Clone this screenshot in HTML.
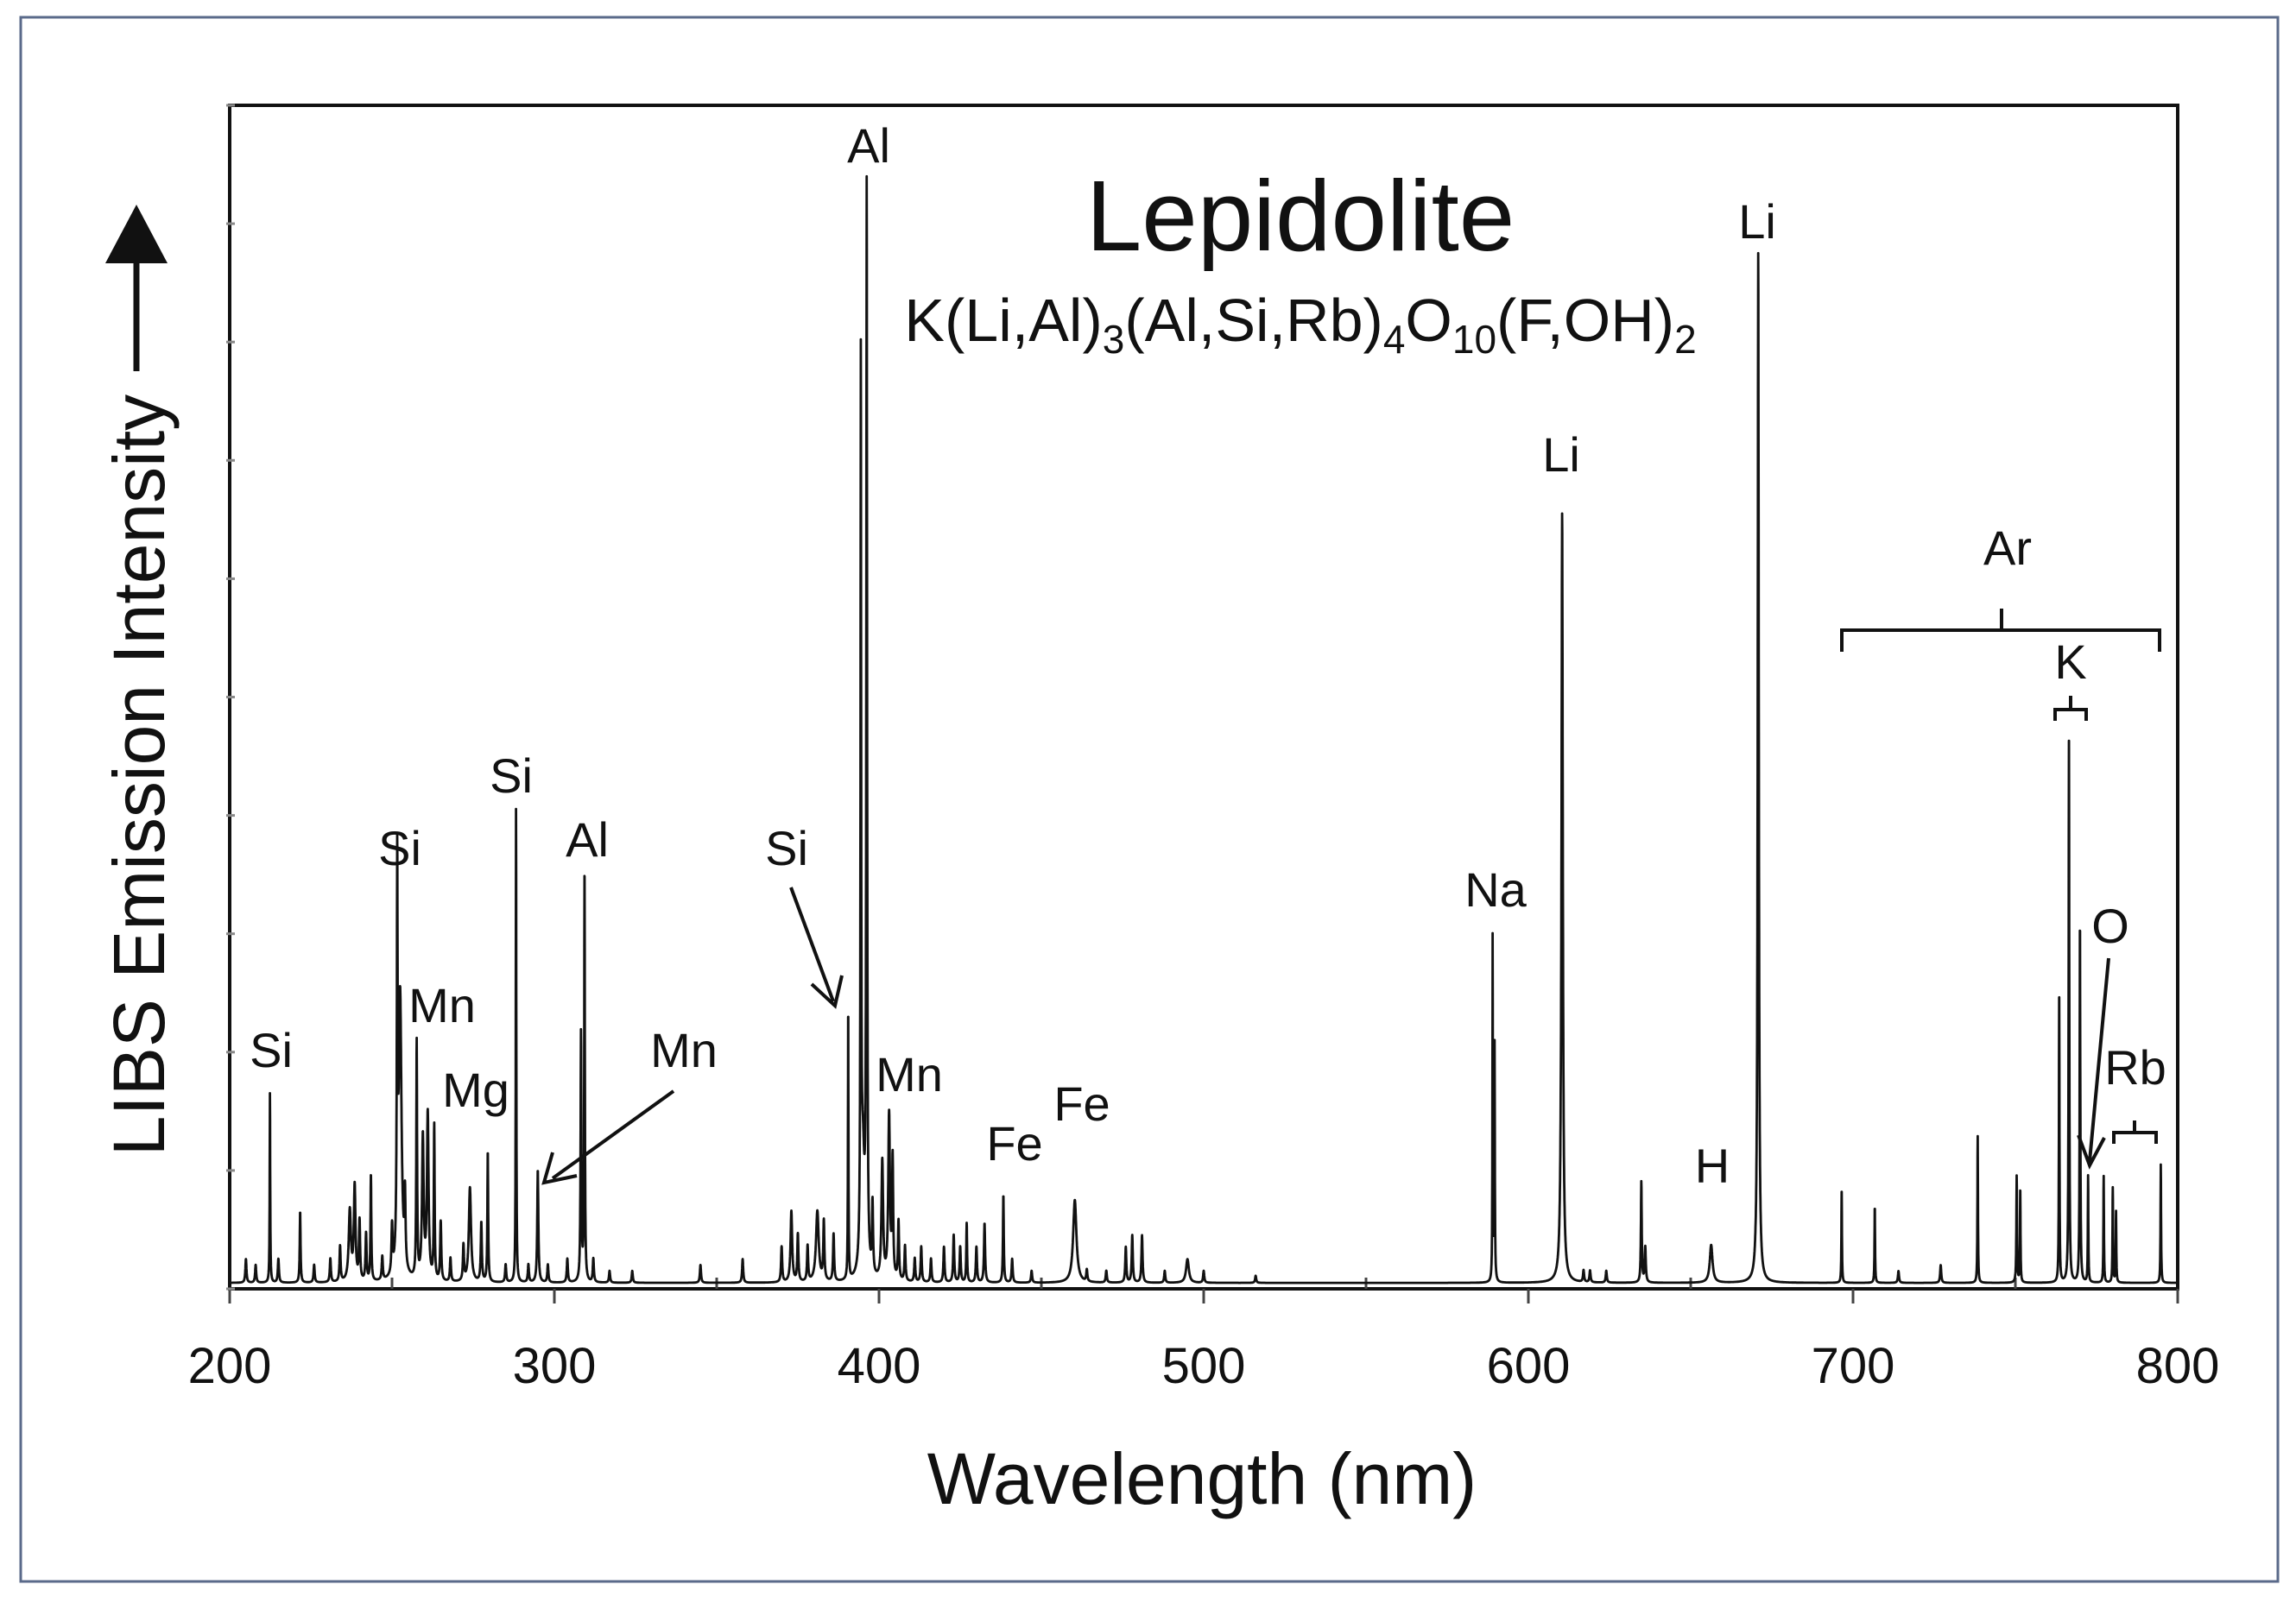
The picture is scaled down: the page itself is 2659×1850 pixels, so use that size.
<!DOCTYPE html>
<html><head><meta charset="utf-8"><style>
body{margin:0;background:#fff}
svg{display:block}
text{font-family:"Liberation Sans",sans-serif;fill:#111}
</style></head><body>
<svg id="chart" width="2659" height="1850" viewBox="0 0 2659 1850" xmlns="http://www.w3.org/2000/svg">
<rect x="24" y="20" width="2614" height="1812" fill="#fff" stroke="#5a6a8a" stroke-width="3"/>
<rect x="266" y="122" width="2256" height="1371" fill="none" stroke="#111" stroke-width="4"/>
<g id="xticks"></g>
<g id="yticks"></g>
<path id="spec" fill="none" stroke="#111" stroke-width="2.8" stroke-linejoin="round"/>
<text x="1506" y="290" font-size="116" text-anchor="middle">Lepidolite</text>
<text x="1506" y="395" font-size="70" text-anchor="middle">K(Li,Al)<tspan font-size="46" dy="14">3</tspan><tspan dy="-14">(Al,Si,Rb)</tspan><tspan font-size="46" dy="14">4</tspan><tspan dy="-14">O</tspan><tspan font-size="46" dy="14">10</tspan><tspan dy="-14">(F,OH)</tspan><tspan font-size="46" dy="14">2</tspan></text>
<text x="1392" y="1742" font-size="84" text-anchor="middle">Wavelength (nm)</text>
<text transform="translate(190,898) rotate(-90)" font-size="84" text-anchor="middle">LIBS Emission Intensity</text>
<g><line x1="158" y1="430" x2="158" y2="300" stroke="#111" stroke-width="7"/><polygon points="122,305 194,305 158,237" fill="#111"/></g>
<g id="labels" font-size="56" text-anchor="middle"></g>
<g fill="none" stroke="#111" stroke-width="4">
<line x1="780" y1="1264" x2="640" y2="1365"/><polyline points="640,1335 630,1370 668,1362"/>
<line x1="916" y1="1028" x2="965" y2="1160"/><polyline points="940,1140 967,1165 975,1130"/>
<line x1="2442" y1="1110" x2="2420" y2="1345"/><polyline points="2407,1315 2420,1350 2437,1318"/>
<path d="M2133,755 V730 H2318 V705 M2318,730 H2501 V755"/>
<path d="M2380,835 V822 H2398 V806 M2398,822 H2416 V835"/>
<path d="M2448,1325 V1312 H2472 V1298 M2472,1312 H2497 V1325"/>
</g>
</svg>
<script>
const lineWl=[205,208,212.4,215,221.7,226,231,234,237,238.5,240,242,243.5,247,250,251.6,252.5,254,257.6,259.5,261,263,265,268,272,274,277.5,279.5,285,288.2,292,294.9,298,304,308.2,309.3,312,317,324,345,358,370,373,375,378,381,383,386,390.5,394.4,396.2,395,398,401,403.1,404.2,406,408,411,413,416,420,423,425,427,430,432.5,438.3,441,447,460.3,464,470,476,478,481,488,495,500,516,589,589.6,610.4,617,619,624,634.8,636,656.3,670.8,696.5,706.7,714,727,738.4,750.4,751.5,763.5,766.5,769.9,772.4,777.2,780,781,794.8];
const lineHt=[2,1.5,16,2,6,1.5,2,3,6,8,5,4,9,2,4,32,24,6,20,12,14,13,5,2,3,8,5,11,1.5,40,1.5,9.5,1.5,2,21,34.9,2,1,1,1.5,2,3,6,4,3,6,5,4,23,74,91,10,6,10,14,10,5,3,2,3,2,3,4,3,5,3,5,7.4,2,1,7,1,1,3,4,4,1,2,1,0.6,29,20,65,1,1,1,8.5,3,3.2,87,8,6.5,1,1.5,12.4,9,8,25,47,30.5,9,9,8,6,10];
const lineW=[0.2,0.2,0.1,0.2,0.15,0.2,0.2,0.2,0.4,0.3,0.2,0.2,0.15,0.2,0.2,0.15,0.5,0.2,0.15,0.3,0.3,0.15,0.2,0.2,0.2,0.4,0.2,0.15,0.2,0.1,0.2,0.2,0.2,0.2,0.15,0.12,0.2,0.2,0.2,0.2,0.2,0.2,0.3,0.2,0.2,0.5,0.2,0.2,0.1,0.12,0.15,0.6,0.2,0.3,0.3,0.2,0.2,0.2,0.2,0.2,0.2,0.2,0.2,0.2,0.15,0.2,0.2,0.15,0.2,0.2,0.6,0.2,0.2,0.2,0.2,0.2,0.2,0.5,0.2,0.2,0.08,0.1,0.25,0.2,0.2,0.2,0.15,0.2,0.5,0.2,0.1,0.1,0.2,0.2,0.1,0.12,0.1,0.1,0.12,0.12,0.1,0.1,0.1,0.1,0.1];
const xTicks=[200,300,400,500,600,700,800];
const labelText=["Al","Li","Li","Na","Si","Si","Al","Si","Mn","Mg","Mn","Si","Mn","Fe","Fe","H","Ar","K","O","Rb"];
const labelX=[1006,2035,1808,1732,592,463,680,314,512,551,792,911,1053,1175,1253,1983,2325,2398,2444,2473];
const labelY=[188,276,546,1050,918,1002,992,1236,1184,1282,1236,1002,1264,1344,1298,1370,654,786,1092,1256];
const NS="http://www.w3.org/2000/svg";
const X=w=>266+(w-200)*2256/600;
const Y=v=>1493-v*13.71;
let d="";
for(let w=200;w<=800;w+=0.04){
  let v=0.5;
  for(let i=0;i<lineWl.length;i++){const t=(w-lineWl[i])/lineW[i];v+=lineHt[i]/(1+t*t);}
  d+=(d?"L":"M")+X(w).toFixed(1)+","+Y(v).toFixed(1);
}
document.getElementById("spec").setAttribute("d",d);
const xt=document.getElementById("xticks");
for(let w=200;w<=800;w+=50){
  const l=document.createElementNS(NS,"line");
  
  
  l.setAttribute("x1",X(w));l.setAttribute("x2",X(w));
  l.setAttribute("y1",w%100==0?1493:1480);l.setAttribute("y2",w%100==0?1510:1493);
  l.setAttribute("stroke","#444");l.setAttribute("stroke-width","3");xt.appendChild(l);
}
xTicks.forEach(w=>{
  const t=document.createElementNS(NS,"text");
  
  
  t.setAttribute("x",X(w));t.setAttribute("y",1602);t.setAttribute("font-size","58");t.setAttribute("text-anchor","middle");
  t.textContent=w;xt.appendChild(t);
});
const yt=document.getElementById("yticks");
for(let v=0;v<=100;v+=10){
  const l=document.createElementNS(NS,"line");
  
  
  l.setAttribute("x1",262);l.setAttribute("x2",272);l.setAttribute("y1",Y(v));l.setAttribute("y2",Y(v));
  l.setAttribute("stroke","#888");l.setAttribute("stroke-width","3");yt.appendChild(l);
}
const lg=document.getElementById("labels");
labelText.forEach((s,i)=>{
  const t=document.createElementNS(NS,"text");
  
  
  t.setAttribute("x",labelX[i]);t.setAttribute("y",labelY[i]);t.textContent=s;lg.appendChild(t);
});
</script>
</body></html>
